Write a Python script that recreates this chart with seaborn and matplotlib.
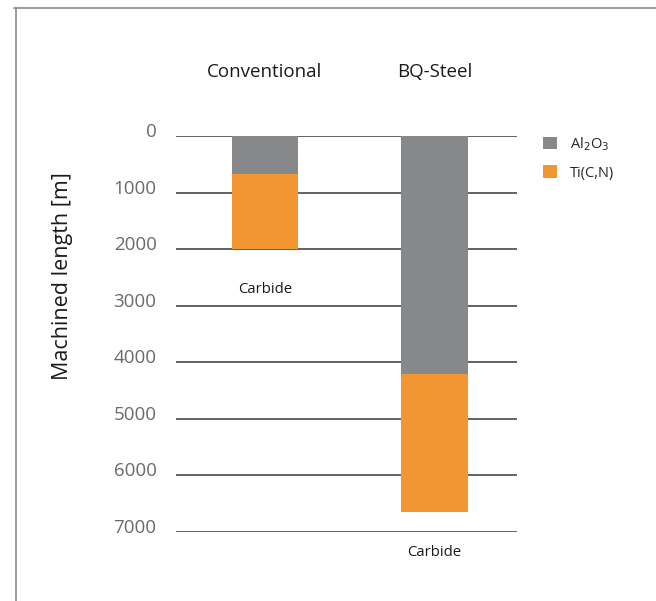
import matplotlib
matplotlib.use("Agg")
import matplotlib.pyplot as plt
import matplotlib.transforms as mtransforms
import seaborn as sns
import pandas as pd
from matplotlib.patches import Patch
from matplotlib.lines import Line2D

categories = ["Conventional", "BQ-Steel"]
al2o3 = [680, 4200]
ticn = [1320, 2440]
yticks = [0, 1000, 2000, 3000, 4000, 5000, 6000, 7000]
series_labels = ["Al$_2$O$_3$", "Ti(C,N)"]
sub_label = "Carbide"

sns.set_theme(style="white")
plt.rcParams["font.family"] = ["Open Sans", "DejaVu Sans"]

GRAY = "#87888a"
ORANGE = "#f29533"

totals = [a + t for a, t in zip(al2o3, ticn)]
df = pd.DataFrame({"cat": categories, "al": al2o3, "total": totals})

fig = plt.figure(figsize=(6.56, 6.01), dpi=100)
ax = fig.add_axes([176/656, 1-532/601, 341/656, (532-136)/601])

for y in yticks:
    ax.axhline(y, color="#555555", lw=1.3, zorder=0)

sns.barplot(data=df, x="cat", y="total", color=ORANGE, width=0.39, ax=ax,
            saturation=1, zorder=2, linewidth=0, edgecolor="none")
sns.barplot(data=df, x="cat", y="al", color=GRAY, width=0.39, ax=ax,
            saturation=1, zorder=3, linewidth=0, edgecolor="none")

ax.set_ylim(7000, 0)
ax.set_xlim(-0.525, 1.487)
ax.set_yticks(yticks)
ax.set_yticklabels([str(v) for v in yticks], fontsize=13.5, color="#6a6a6a")
ax.tick_params(axis="y", length=0, pad=14)
offset = mtransforms.ScaledTranslation(0, 6/100, fig.dpi_scale_trans)
for lab in ax.get_yticklabels():
    lab.set_transform(lab.get_transform() + offset)
ax.set_xticks([])
ax.set_xlabel("")
ax.set_ylabel("Machined length [m]", fontsize=15.5, color="#1a1a1a")
ax.yaxis.set_label_coords((73-176)/341, (532-276)/396)
for s in ax.spines.values():
    s.set_visible(False)

for i, c in enumerate(categories):
    ax.text(i, -1130, c, ha="center", va="center", fontsize=13.5,
            color="#1a1a1a", clip_on=False)
    ax.text(i, totals[i] + 720, sub_label, ha="center", va="center",
            fontsize=10.7, color="#1a1a1a", clip_on=False)

handles = [Patch(facecolor=GRAY, edgecolor="none"),
           Patch(facecolor=ORANGE, edgecolor="none")]
fig.legend(handles, series_labels, loc="upper left",
           bbox_to_anchor=(530/656, 1-122/601), frameon=False,
           fontsize=10.5, handlelength=0.95, handleheight=0.95,
           handletextpad=0.9, labelspacing=0.85)

# outer frame lines
fig.add_artist(Line2D([16/656, 16/656], [0, 1-8/601], color="#8a8a8a", lw=1.2))
fig.add_artist(Line2D([14/656, 1], [1-8/601, 1-8/601], color="#8a8a8a", lw=1.2))

fig.savefig("out.png", dpi=100)
